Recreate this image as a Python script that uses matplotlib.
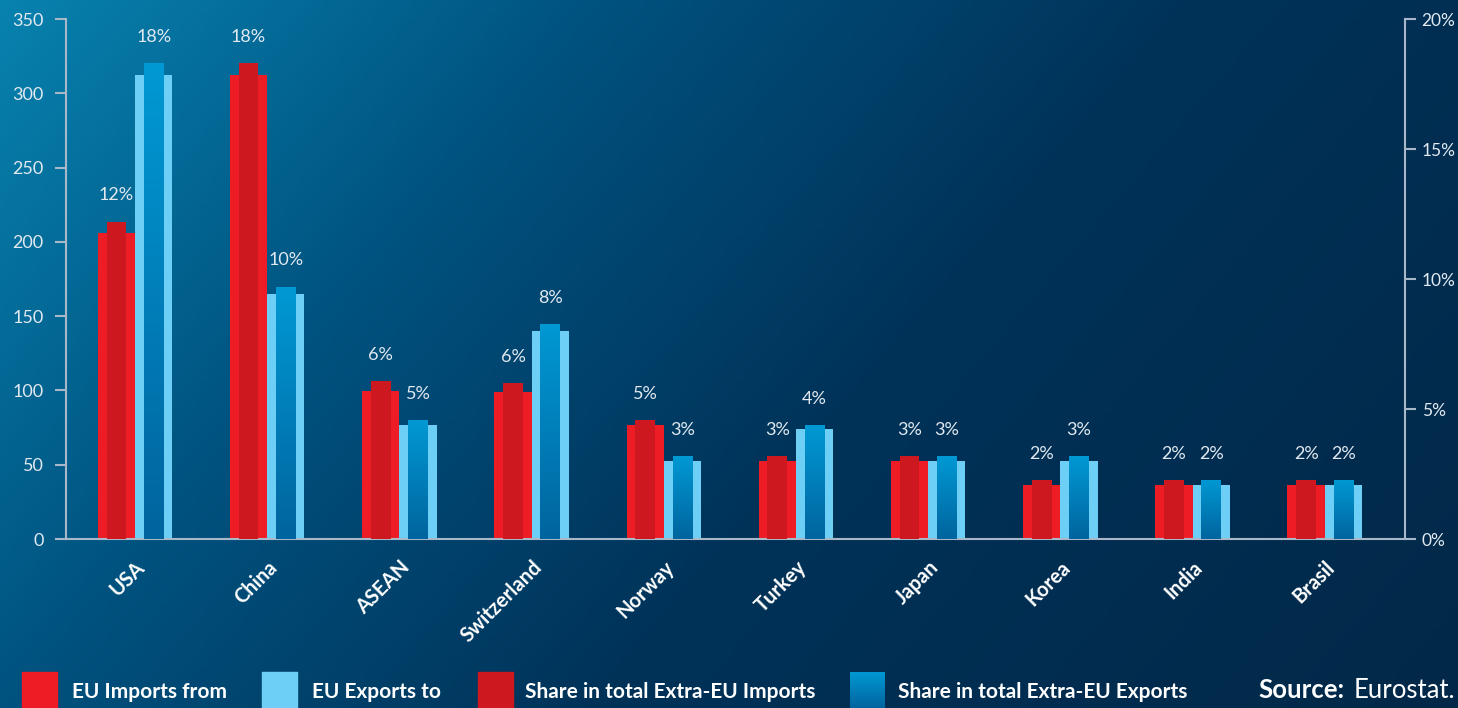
import numpy as np
import matplotlib
matplotlib.use("Agg")
import matplotlib.pyplot as plt
from matplotlib.patches import Rectangle
from matplotlib.colors import LinearSegmentedColormap
from matplotlib.transforms import ScaledTranslation

# ---- data (EUR bn and % share of extra-EU trade) ----
countries = ["USA", "China", "ASEAN", "Switzerland", "Norway",
             "Turkey", "Japan", "Korea", "India", "Brasil"]
imports_from = [206, 312, 99.6, 99, 76.7, 52.5, 52.5, 36.3, 36.3, 36.3]
exports_to = [312, 165, 76.7, 140, 52.5, 74, 52.5, 52.5, 36.3, 36.3]
share_imports = [12.2, 18.3, 6.08, 6.0, 4.58, 3.19, 3.19, 2.27, 2.27, 2.27]
share_exports = [18.3, 9.7, 4.58, 8.27, 3.19, 4.38, 3.19, 3.19, 2.27, 2.27]

left_ticks = [0, 50, 100, 150, 200, 250, 300, 350]
right_ticks = [0, 5, 10, 15, 20]

legend_labels = ["EU Imports from", "EU Exports to",
                 "Share in total Extra-EU Imports",
                 "Share in total Extra-EU Exports"]

# ---- styling ----
C_IMP = "#ee1c25"
C_IMP_SHARE = "#cd181f"
C_EXP = "#6dcff6"
C_EXP_TOP = (0 / 255, 153 / 255, 212 / 255)
C_EXP_BOT = (0 / 255, 100 / 255, 158 / 255)
AXIS_C = "#a8b8c8"
TXT_C = "#e2e9f0"
FONT = ["Lato", "DejaVu Sans"]

W, H, DPI = 1458, 708, 100
fig = plt.figure(figsize=(W / DPI, H / DPI), dpi=DPI)

# background gradient, bright blue top-left to navy bottom-right
bg = fig.add_axes([0, 0, 1, 1], zorder=-10)
xx, yy = np.meshgrid(np.linspace(0, 1, 400), np.linspace(0, 1, 200))
t = 0.85 * xx + 0.35 * yy
stops_t = [0.0, 0.35, 0.7, 1.2]
stops_c = np.array([[8, 130, 175], [0, 82, 127], [0, 50, 88], [2, 40, 72]]) / 255
img = np.stack([np.interp(t, stops_t, stops_c[:, k]) for k in range(3)], axis=-1)
bg.imshow(img, extent=(0, 1, 0, 1), aspect="auto", origin="upper")
bg.axis("off")

grad_cmap = LinearSegmentedColormap.from_list("expshare", [C_EXP_BOT, C_EXP_TOP])
grad = np.linspace(1, 0, 256).reshape(-1, 1)

# main axes
ax = fig.add_axes([66 / W, 1 - 539 / H, (1405 - 66) / W, (539 - 19) / H])
ax.patch.set_alpha(0)
x = np.arange(len(countries))
off, wide, narrow = 0.141, 0.282, 0.149

ax.bar(x - off, imports_from, wide, color=C_IMP, zorder=2)
ax.bar(x + off, exports_to, wide, color=C_EXP, zorder=2)
ax.set_xlim(-0.522, 9.607)
ax.set_ylim(0, 350)
ax.set_yticks(left_ticks)
ax.set_xticks(x)
ax.set_xticklabels(countries, rotation=45, ha="right", rotation_mode="anchor",
                   fontsize=14.5, fontweight="bold", color="white", family=FONT)
shift = ScaledTranslation(-5 / DPI, 0, fig.dpi_scale_trans)
for lab in ax.get_xticklabels():
    lab.set_transform(lab.get_transform() + shift)
ax.tick_params(axis="x", length=0, pad=13)
ax.tick_params(axis="y", length=8, width=1.5, color=AXIS_C, labelcolor=TXT_C,
               labelsize=13, pad=8)
for lab in ax.get_yticklabels():
    lab.set_family(FONT)
for s in ["top", "right"]:
    ax.spines[s].set_visible(False)
ax.spines["left"].set_color(AXIS_C)
ax.spines["left"].set_linewidth(1.5)
ax.spines["bottom"].set_color(AXIS_C)
ax.spines["bottom"].set_linewidth(1.5)
ax.spines["bottom"].set_zorder(5)

# share axis
ax2 = ax.twinx()
ax2.set_ylim(0, 20)
ax2.set_yticks(right_ticks)
ax2.set_yticklabels([f"{v}%" for v in right_ticks])
ax2.tick_params(axis="y", length=8, width=1.5, color=AXIS_C, labelcolor=TXT_C,
                labelsize=12.5, pad=4)
for lab in ax2.get_yticklabels():
    lab.set_family(FONT)
for s in ["top", "left", "bottom"]:
    ax2.spines[s].set_visible(False)
ax2.spines["right"].set_color(AXIS_C)
ax2.spines["right"].set_linewidth(1.5)

ax2.bar(x - off, share_imports, narrow, color=C_IMP_SHARE, zorder=3)
exp_bars = ax2.bar(x + off, share_exports, narrow, color="none", zorder=3)
for p in exp_bars:
    x0, y0 = p.get_x(), p.get_y()
    im = ax2.imshow(grad, cmap=grad_cmap, aspect="auto", zorder=3,
                    extent=(x0, x0 + p.get_width(), y0, y0 + p.get_height()))
    im.set_clip_path(p)
ax2.set_xlim(-0.522, 9.607)
ax2.set_ylim(0, 20)

for xi, v in zip(x - off, share_imports):
    ax2.annotate(f"{v:.0f}%", (xi, v), xytext=(0, 19), textcoords="offset points",
                 ha="center", va="center", color=TXT_C, fontsize=13, family=FONT)
for xi, v in zip(x + off, share_exports):
    ax2.annotate(f"{v:.0f}%", (xi, v), xytext=(0, 19), textcoords="offset points",
                 ha="center", va="center", color=TXT_C, fontsize=13, family=FONT)

# legend strip along the bottom
patch_x = [22, 262, 478, 850]
text_x = [72, 312, 525, 898]
patch_c = [C_IMP, C_EXP, C_IMP_SHARE, None]
for px, tx, pc, lbl in zip(patch_x, text_x, patch_c, legend_labels):
    if pc is not None:
        fig.patches.append(Rectangle((px / W, 0), 35 / W, 36 / H,
                                     transform=fig.transFigure, color=pc))
    else:
        lax = fig.add_axes([px / W, 0, 35 / W, 36 / H])
        lax.imshow(grad, cmap=grad_cmap, aspect="auto", extent=(0, 1, 0, 1))
        lax.axis("off")
    fig.text(tx / W, 1 - 692 / H, lbl, ha="left", va="center", color="white",
             fontsize=15, fontweight="bold", family=FONT)

fig.text(1258 / W, 1 - 690 / H, "Source:", ha="left", va="center", color="white",
         fontsize=18.5, fontweight="bold", family=FONT)
fig.text(1455 / W, 1 - 690 / H, "Eurostat.", ha="right", va="center", color="white",
         fontsize=18.5, fontweight="normal", family=FONT)

fig.savefig("out.png", dpi=DPI)
